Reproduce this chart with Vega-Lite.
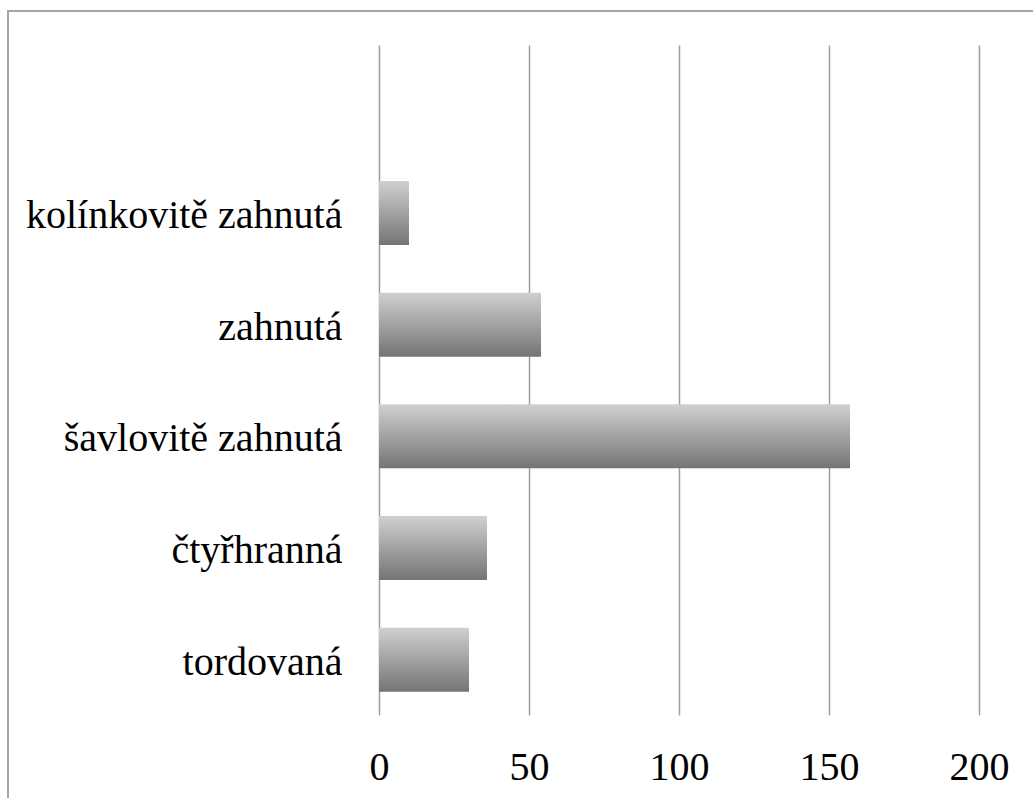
{
  "$schema": "https://vega.github.io/schema/vega-lite/v6.json",
  "autosize": "none",
  "padding": {"left": 8, "top": 11, "right": -2, "bottom": -2},
  "width": 1027,
  "height": 789,
  "background": "white",
  "config": {
    "view": {"stroke": "#a6a6a6", "strokeWidth": 2},
    "font": "Liberation Serif"
  },
  "data": {
    "values": [
      {"typ": "kolínkovitě zahnutá", "pocet": 10},
      {"typ": "zahnutá", "pocet": 54},
      {"typ": "šavlovitě zahnutá", "pocet": 157},
      {"typ": "čtyřhranná", "pocet": 36},
      {"typ": "tordovaná", "pocet": 30}
    ]
  },
  "mark": {
    "type": "bar",
    "fill": {
      "gradient": "linear",
      "x1": 0, "y1": 0, "x2": 0, "y2": 1,
      "stops": [
        {"offset": 0, "color": "#d0d0d0"},
        {"offset": 1, "color": "#747474"}
      ]
    }
  },
  "encoding": {
    "y": {
      "field": "typ",
      "type": "nominal",
      "sort": null,
      "scale": {
        "domain": ["tordovaná", "čtyřhranná", "šavlovitě zahnutá", "zahnutá", "kolínkovitě zahnutá"],
        "range": [755, 85],
        "paddingInner": 0.427,
        "paddingOuter": 0.7135,
        "align": 0.5334
      },
      "axis": {
        "title": null,
        "domain": false,
        "ticks": false,
        "tickSize": 0,
        "grid": false,
        "labelFont": "Liberation Serif",
        "labelFontSize": 40,
        "labelColor": "#000000",
        "labelPadding": -334,
        "labelAlign": "right",
        "labelBaseline": "middle",
        "labelLimit": 0,
        "labelOffset": 3
      }
    },
    "x": {
      "field": "pocet",
      "type": "quantitative",
      "scale": {"domain": [0, 200], "range": [371, 971], "nice": false, "zero": true},
      "axis": {
        "title": null,
        "values": [0, 50, 100, 150, 200],
        "domain": false,
        "ticks": false,
        "tickSize": 0,
        "grid": true,
        "gridColor": "#9e9e9e",
        "gridWidth": 1.5,
        "labelFont": "Liberation Serif",
        "labelFontSize": 40,
        "labelColor": "#000000",
        "labelPadding": -21,
        "labelBaseline": "alphabetic",
        "labelFlush": false,
        "labelOverlap": false,
        "labelBound": false
      }
    }
  }
}
